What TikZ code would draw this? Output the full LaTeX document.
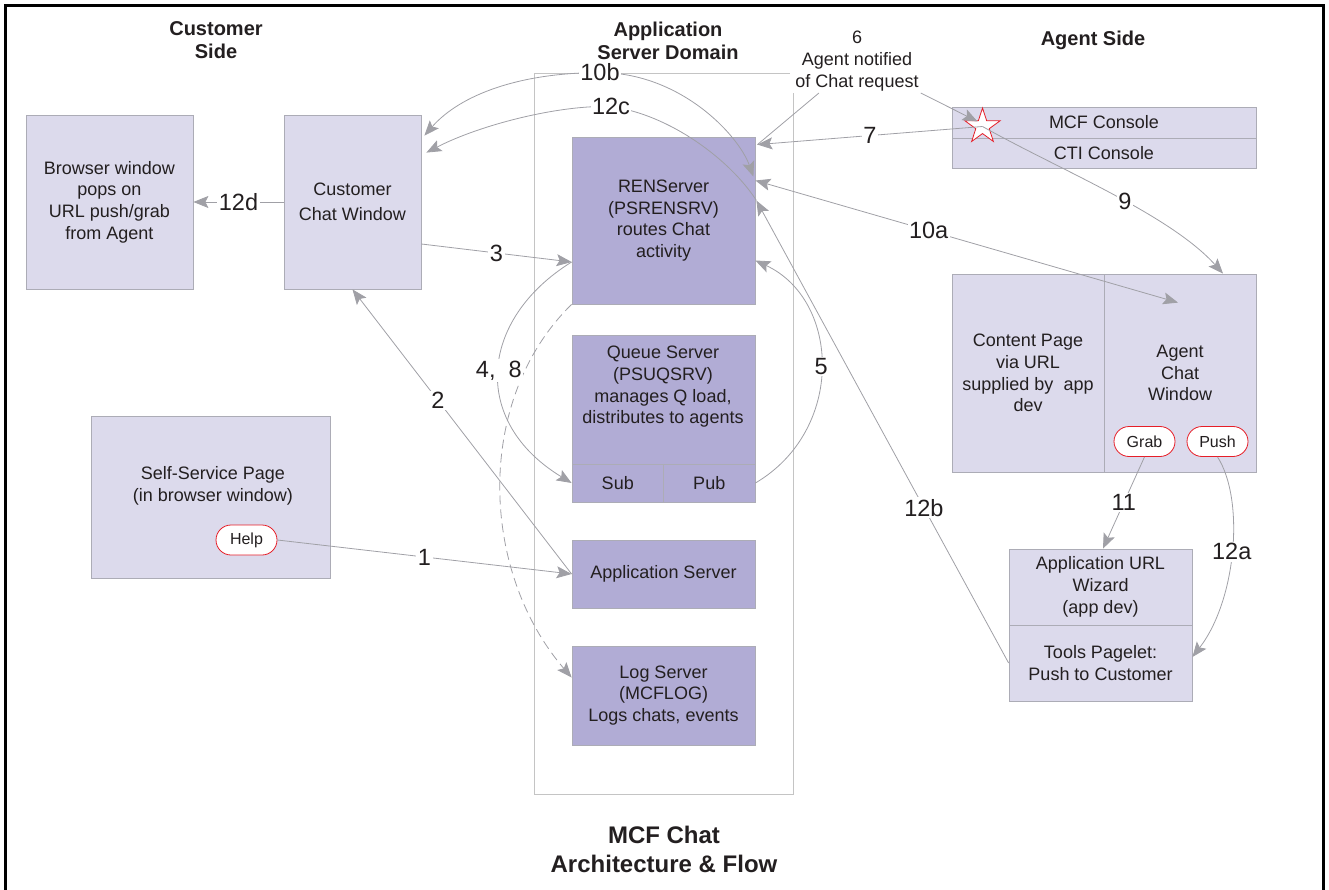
\documentclass[tikz,border=0pt]{standalone}
\usepackage{fontspec}
\setmainfont{Liberation Sans}
\usetikzlibrary{arrows.meta,shapes.geometric,calc}
\definecolor{lightlav}{RGB}{220,218,236}
\definecolor{darklav}{RGB}{177,172,213}
\definecolor{boxline}{RGB}{172,172,182}
\definecolor{wiregray}{RGB}{160,160,166}
\definecolor{inkc}{RGB}{35,31,32}
\definecolor{domainline}{RGB}{196,196,196}
\definecolor{btnred}{RGB}{230,30,40}
\begin{document}
\begin{tikzpicture}[x=1pt,y=-1pt,
  every node/.append style={text=inkc},
  body/.style={font=\fontsize{18}{21.7}\selectfont},
  lightbox/.style={draw=boxline, fill=lightlav, line width=0.8pt, inner sep=0pt, align=center, body},
  darkbox/.style={lightbox, fill=darklav},
  btn/.style={draw=btnred, fill=white, line width=0.8pt, rounded corners=15pt,
    minimum width=61pt, minimum height=30pt, inner sep=0pt, font=\fontsize{16}{19}\selectfont},
  head/.style={font=\fontsize{20}{23}\selectfont\bfseries, align=center},
  wirec/.style={draw=wiregray, line width=0.8pt},
  arr/.style={-{Stealth[length=15pt,width=12pt,inset=3pt]}},
  arrtwo/.style={{Stealth[length=15pt,width=12pt,inset=3pt]}-{Stealth[length=15pt,width=12pt,inset=3pt]}},
  lbl/.style={fill=white, inner sep=1.5pt, font=\fontsize{23.5}{26}\selectfont}]

\useasboundingbox (0,0) rectangle (1329,890);

% outer frame (open at the bottom edge of the page)
\draw[line width=3pt] (5.5,905) -- (5.5,5.5) -- (1323.5,5.5) -- (1323.5,905);

% application server domain
\node[draw=domainline, line width=0.8pt, minimum width=259pt, minimum height=721pt, inner sep=0pt] (domain) at (663.5,433.5) {};

% headings
\node[head] (hcust) at (216,40.5) {Customer\\Side};
\node[head] (hdom) at (668,40.5) {Application\\Server Domain};
\node[head] (hagent) at (1093,40) {Agent Side};
\node[font=\fontsize{24}{29}\selectfont\bfseries, align=center] (title) at (664,849) {MCF Chat\\Architecture \& Flow};

% customer side
\node[lightbox, minimum width=167pt, minimum height=174pt] (browser) at (109.5,202) {Browser window\\pops on\\URL push/grab\\from Agent};
\node[lightbox, minimum width=137pt, minimum height=174pt, font=\fontsize{18}{25}\selectfont] (cust) at (352.5,202) {Customer\\Chat Window};
\node[lightbox, minimum width=239pt, minimum height=162pt] (selfpage) at (210.5,497) {};
\node[body, align=center] (selftext) at (213,486) {Self-Service Page\\(in browser window)};
\node[btn] (help) at (246.5,540) {Help};

% servers
\node[darkbox, minimum width=183pt, minimum height=167pt] (ren) at (663.5,220.5) {RENServer\\(PSRENSRV)\\routes Chat\\activity};
\node[darkbox, minimum width=183pt, minimum height=129pt] (queue) at (663.5,399.5) {};
\node[body, align=center] (queuetext) at (663,387) {Queue Server\\(PSUQSRV)\\manages Q load,\\distributes to agents};
\node[darkbox, minimum width=91.5pt, minimum height=38pt] (sub) at (617.75,483) {Sub};
\node[darkbox, minimum width=91.5pt, minimum height=38pt] (pub) at (709.25,483) {Pub};
\node[darkbox, minimum width=183pt, minimum height=68pt] (appsrv) at (663.5,574) {Application Server};
\node[darkbox, minimum width=183pt, minimum height=99pt] (logsrv) at (663.5,695.5) {Log Server\\(MCFLOG)\\Logs chats, events};

% agent side
\node[lightbox, minimum width=304pt, minimum height=31pt] (mcf) at (1104,122.5) {MCF Console};
\node[lightbox, minimum width=304pt, minimum height=30pt] (cti) at (1104,153) {CTI Console};
\node[star, star points=5, star point ratio=2.618, draw=btnred, fill=white, line width=0.8pt,
  minimum size=37pt, inner sep=0pt] (star) at (982.5,126.5) {};
\node[lightbox, minimum width=152pt, minimum height=198pt] (content) at (1028,373) {Content Page\\via URL\\supplied by\ \ app\\dev};
\node[lightbox, minimum width=152pt, minimum height=198pt] (agentwin) at (1180,373) {Agent\\Chat\\Window};
\node[btn] (grab) at (1144.5,441.5) {Grab};
\node[btn] (push) at (1217.5,441.5) {Push};
\node[lightbox, minimum width=183pt, minimum height=76pt] (wizard) at (1100.5,587) {Application URL\\Wizard\\(app dev)};
\node[lightbox, minimum width=183pt, minimum height=76pt] (tools) at (1100.5,663) {Tools Pagelet:\\Push to Customer};

% note on step 6
\node[body, fill=white, align=center, inner xsep=5pt, inner ysep=2pt] (note6) at (857,61) {6\\Agent notified\\of Chat request};

% flow connectors
\draw[wirec, arr] (help.east) -- node[lbl]{1} (appsrv.west);
\draw[wirec, arr] (appsrv.west) -- node[lbl, pos=0.61]{2} (cust.south);
\draw[wirec, arr] ($(cust.east)+(0,42)$) -- node[lbl]{3} ($(ren.west)+(0,41.5)$);
\draw[wirec, arr, dash pattern=on 9pt off 5pt] (ren.south west)
  .. controls +(-97,95) and +(-92,-107) .. ($(logsrv.west)+(0,-18)$);
\draw[wirec, arr] ($(ren.west)+(0,41.5)$)
  .. controls +(-92,57) and +(-102,-62) .. node[lbl, pos=0.5]{4,\ \ 8} (sub.west);
\draw[wirec, arr] (pub.east)
  .. controls +(90,-53) and +(85,39.5) .. node[lbl]{5} ($(ren.east)+(0,40)$);
\draw[wirec, arr] ($(ren.north east)+(2,8)$) -- (note6) -- ($(star.center)+(-5,-5)$);
\draw[wirec, arr] (star.center) -- node[lbl]{7} ($(ren.north east)+(2,8)$);
\draw[wirec, arr] (star.center)
  .. controls +(77.5,43.5) and +(-53,-59) .. node[lbl, pos=0.55]{9} ($(agentwin.north)+(43,0)$);
\draw[wirec, arrtwo] ($(ren.east)+(0,-40)$) -- node[lbl, pos=0.41]{10a} ($(agentwin.north)+(-2,29)$);
\draw[wirec, arrtwo] ($(ren.north east)+(-2,40)$)
  .. controls +(-15,-42) and +(80,0) .. ($(domain.north)+(-63.5,0)$) node[lbl]{10b}
  .. controls +(-80,0) and +(36,-41) .. ($(cust.north east)+(3,21)$);
\draw[wirec, arr] (grab.south) -- node[lbl]{11} ($(wizard.north)+(2.5,0)$);
\draw[wirec, arr] (push.south)
  .. controls +(27.5,43) and +(44,-57) .. node[lbl]{12a} ($(tools.east)+(0,-6)$);
\draw[wirec, arr] (tools.west) -- node[lbl, pos=0.336]{12b} ($(ren.east)+(1,-20)$);
\draw[wirec, arr] ($(ren.east)+(1,-20)$)
  .. controls +(-26,-40.5) and +(59,8) .. ($(domain.north)+(-52.5,34)$) node[lbl]{12c}
  .. controls +(-51,-2) and +(54,-28) .. ($(cust.north east)+(5,38)$);
\draw[wirec, arr] (cust.west) -- node[lbl]{12d} (browser.east);

\end{tikzpicture}
\end{document}
